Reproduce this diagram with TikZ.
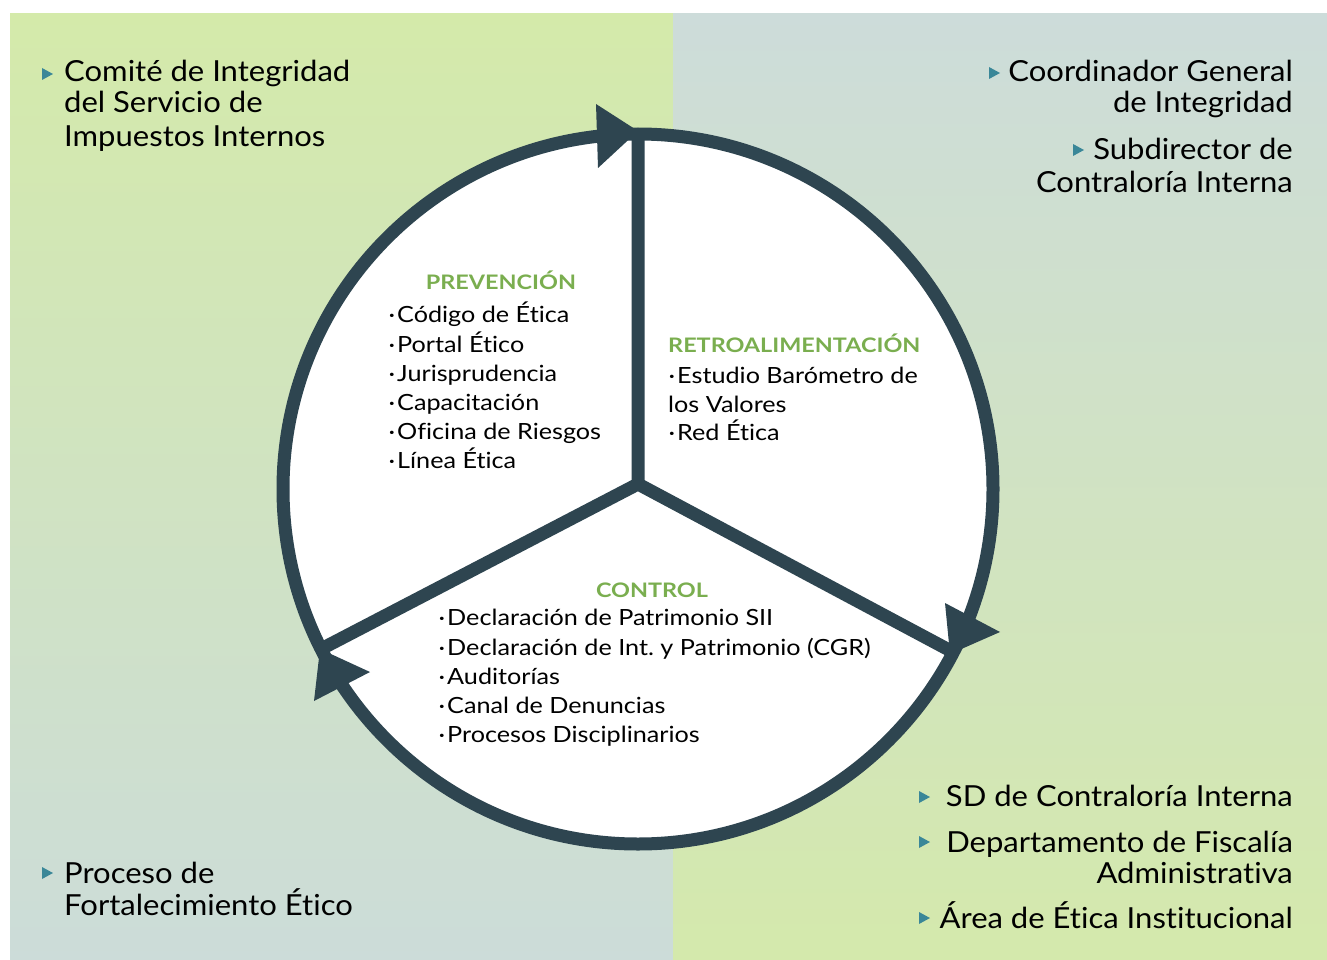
\documentclass[tikz,border=0pt]{standalone}
\usepackage{fontspec}
\setmainfont{Lato}[Ligatures=NoCommon]
\newfontfamily\outerfont{Lato}[FakeStretch=1.07, Ligatures=NoCommon]
\newfontfamily\innerfont{Lato}[FakeStretch=1.13, Ligatures=NoCommon]
\newfontfamily\ttlfont{Lato Bold}[FakeStretch=1.17, Ligatures=NoCommon]
\frenchspacing
\definecolor{lgtop}{HTML}{D4EAAA}
\definecolor{lgbot}{HTML}{CCDCD9}
\definecolor{rgtop}{HTML}{CDDCDA}
\definecolor{rgbot}{HTML}{D4E9AC}
\definecolor{ring}{HTML}{2E4550}
\definecolor{ttlgreen}{HTML}{7AAE4F}
\definecolor{bulc}{HTML}{3A8798}
\newcommand{\dt}{\llap{·\hspace{2pt}}}
\tikzset{
  outertext/.style={font=\outerfont\fontsize{29}{32}\selectfont, inner sep=0pt, text=black},
  innertext/.style={font=\innerfont\fontsize{22.3}{29}\selectfont, inner sep=0pt, text=black, anchor=base west},
  ttl/.style={font=\ttlfont\fontsize{20}{24}\selectfont, text=ttlgreen, inner sep=0pt, anchor=base},
  bul/.pic={\fill[bulc] (-5,-6) -- (6,0) -- (-5,6) -- cycle;},
  ringline/.style={draw=ring, line width=13pt},
  arrowhead/.style={fill=ring}
}
\begin{document}
\begin{tikzpicture}[x=1pt,y=-1pt]
\useasboundingbox (0,0) rectangle (1327,960);
\fill[white] (0,0) rectangle (1327,960);
\shade[top color=lgtop, bottom color=lgbot] (10,14) rectangle (673,960);
\shade[top color=rgtop, bottom color=rgbot] (673,14) rectangle (1327,960);

% ring
\coordinate (c) at (638,489);
\coordinate (hub) at (638,484);
\coordinate (ptop) at (638,134);
\coordinate (pright) at (951,651);
\coordinate (pleft) at (323,648);
\fill[white] (c) circle[radius=355pt];
\draw[ringline] (c) circle[radius=355pt];
\draw[ringline, line join=miter] (ptop) -- (hub) -- (pright) (hub) -- (pleft);

% arrowheads
\coordinate (ta) at (638,131);
\coordinate (ra) at (950,654);
\coordinate (la) at (320,649);
\fill[arrowhead] (ta) -- (596,104) -- (598,168) -- cycle;
\fill[arrowhead] (ra) -- (945,603) -- (1000,632) -- cycle;
\fill[arrowhead] (la) -- (314,701) -- (370,672) -- cycle;

% corner texts
\pic at (47,74) {bul};
\node[outertext, anchor=base west] (tl1) at (64,82) {Comité de Integridad};
\node[outertext, anchor=base west] (tl2) at (64,113) {del Servicio de};
\node[outertext, anchor=base west] (tl3) at (64,147) {Impuestos Internos};

\pic at (994,73) {bul};
\node[outertext, anchor=base east] (tr1) at (1293,82) {Coordinador General};
\node[outertext, anchor=base east] (tr2) at (1293,113) {de Integridad};
\pic at (1078,150) {bul};
\node[outertext, anchor=base east] (tr3) at (1293,160) {Subdirector de};
\node[outertext, anchor=base east] (tr4) at (1293,193) {Contraloría Interna};

\pic at (924,797) {bul};
\node[outertext, anchor=base east] (br1) at (1293,806) {SD de Contraloría Interna};
\pic at (924,842) {bul};
\node[outertext, anchor=base east] (br2) at (1293,852) {Departamento de Fiscalía};
\node[outertext, anchor=base east] (br3) at (1293,883) {Administrativa};
\pic at (924,918) {bul};
\node[outertext, anchor=base east] (br4) at (1293,928) {Área de Ética Institucional};

\pic at (47,873) {bul};
\node[outertext, anchor=base west] (bl1) at (64,883) {Proceso de};
\node[outertext, anchor=base west] (bl2) at (64,915) {Fortalecimiento Ético};

% PREVENCION
\node[ttl] (tprev) at (501,289) {PREVENCIÓN};
\node[innertext] (p1) at (397,322) {\dt Código de Ética};
\node[innertext] (p2) at (397,352) {\dt Portal Ético};
\node[innertext] (p3) at (397,381) {\dt Jurisprudencia};
\node[innertext] (p4) at (397,410) {\dt Capacitación};
\node[innertext] (p5) at (397,439) {\dt Oficina de Riesgos};
\node[innertext] (p6) at (397,468) {\dt Línea Ética};

% RETROALIMENTACION
\node[ttl, anchor=base west] (tret) at (668,352) {RETROALIMENTACIÓN};
\node[innertext] (r1) at (677,383) {\dt Estudio Barómetro de};
\node[innertext] (r2) at (668,412) {los Valores};
\node[innertext] (r3) at (677,440) {\dt Red Ética};

% CONTROL
\node[ttl] (tcon) at (652,597) {CONTROL};
\node[innertext] (c1) at (447,625) {\dt Declaración de Patrimonio SII};
\node[innertext] (c2) at (447,655) {\dt Declaración de Int.\ y Patrimonio (CGR)};
\node[innertext] (c3) at (447,684) {\dt Auditorías};
\node[innertext] (c4) at (447,713) {\dt Canal de Denuncias};
\node[innertext] (c5) at (447,742) {\dt Procesos Disciplinarios};
\end{tikzpicture}
\end{document}
